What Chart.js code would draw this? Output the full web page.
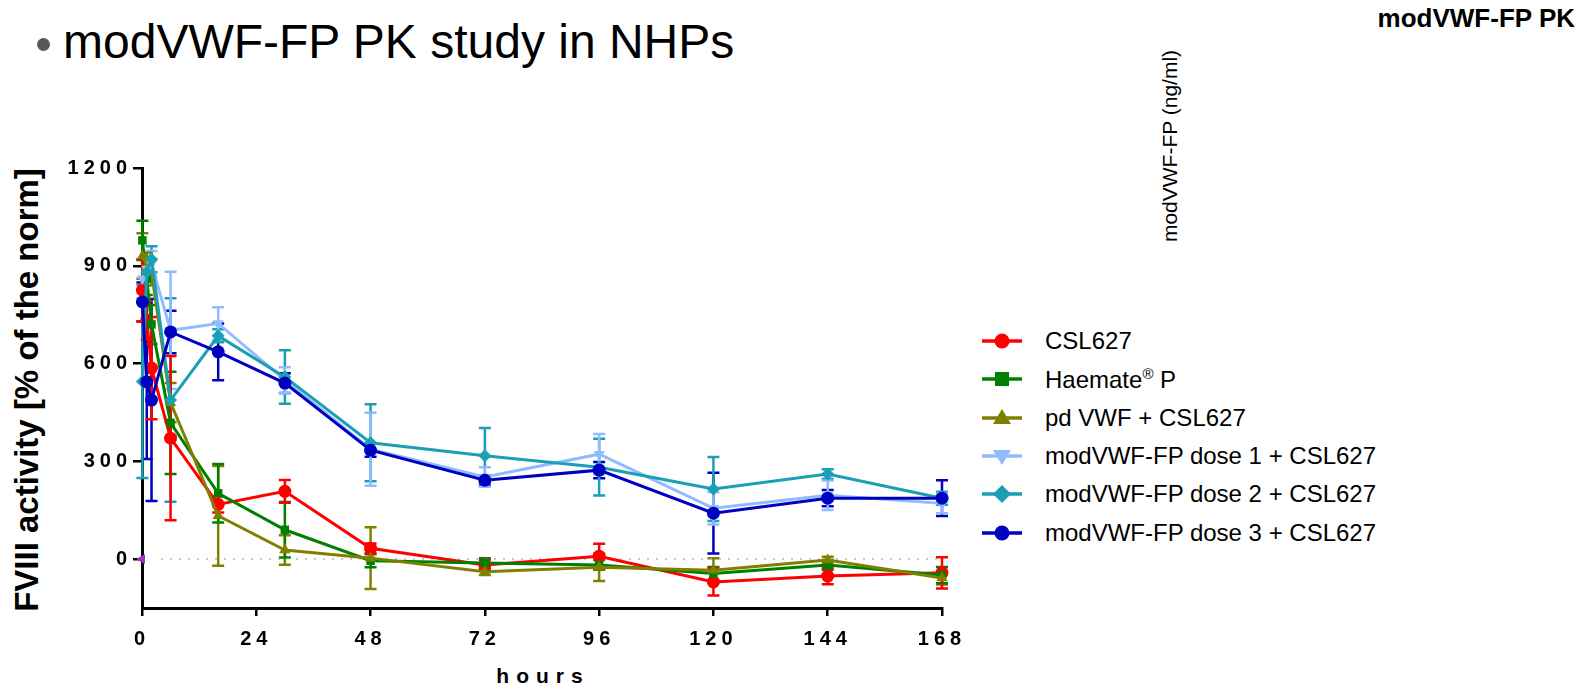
<!DOCTYPE html>
<html>
<head>
<meta charset="utf-8">
<script src="https://cdn.jsdelivr.net/npm/chart.js@4.4.1/dist/chart.umd.min.js"></script>
<style>
  html, body { margin: 0; padding: 0; background: #fff; }
  body { width: 1585px; height: 691px; position: relative; overflow: hidden; font-family: 'Liberation Sans', Arial, sans-serif; }
  #chartBox { position: absolute; left: 0; top: 0; width: 972px; height: 691px; }
  .abs { position: absolute; white-space: nowrap; }
  #bullet { left: 37px; top: 38px; width: 13px; height: 13px; border-radius: 50%; background: #555a5f; }
  #title { left: 63px; top: 14px; font-size: 48px; color: #000; }
  #pk { right: 10px; top: 3px; font-size: 26px; font-weight: bold; }
  #ngml { left: 1170px; top: 146px; font-size: 21px; transform: translate(-50%, -50%) rotate(-90deg); }
  #yTitle { left: 27px; top: 390px; font-size: 33px; font-weight: bold; transform: translate(-50%, -50%) rotate(-90deg); }
  #xTitle { left: 543px; top: 676px; font-size: 21px; font-weight: bold; letter-spacing: 7px; transform: translate(-50%, -50%); }
  #legend { position: absolute; left: 982px; top: 322px; }
  .item { height: 38.3px; display: flex; align-items: center; font-size: 24px; }
  .item svg { margin-right: 23px; }
  sup { font-size: 15px; }
</style>
</head>
<body>
<div class="abs" id="bullet"></div>
<div class="abs" id="title">modVWF-FP PK study in NHPs</div>
<div class="abs" id="pk">modVWF-FP PK</div>
<div class="abs" id="ngml">modVWF-FP (ng/ml)</div>
<div class="abs" id="yTitle">FVIII activity [% of the norm]</div>
<div class="abs" id="xTitle">hours</div>
<div id="chartBox"><canvas id="pkChart"></canvas></div>
<div id="legend"></div>
<script>
// temps de prélèvement (heures)
var hours = [0.083, 1, 2, 6, 16, 30, 48, 72, 96, 120, 144, 168];
var xTicks = [0, 24, 48, 72, 96, 120, 144, 168];
var yTicks = [0, 300, 600, 900, 1200];

var seriesLabels = ['CSL627', 'Haemate® P', 'pd VWF + CSL627',
  'modVWF-FP dose 1 + CSL627', 'modVWF-FP dose 2 + CSL627', 'modVWF-FP dose 3 + CSL627'];

// moyennes
var csl627   = [825, 733, 586, 371, 168, 208, 33, -18, 9, -70, -52, -42];
var haemate  = [978, 860, 720, 418, 202, 90, -5, -12, -18, -44, -18, -49];
var pdVwf    = [930, 900, 880, 480, 133, 28, 3, -39, -25, -34, -3, -58];
var dose1    = [860, 890, 905, 702, 723, 549, 337, 252, 322, 156, 196, 171];
var dose2    = [545, 880, 920, 488, 685, 559, 357, 317, 282, 215, 261, 187];
var dose3    = [789, 544, 488, 697, 636, 540, 334, 242, 273, 141, 187, 187];

// écarts-types
var csl627Sd  = [95, 60, 157, 252, 25, 35, 15, 15, 38, 42, 25, 48];
var haemateSd = [60, 50, 60, 157, 90, 85, 20, 15, 15, 20, 15, 25];
var pdVwfSd   = [70, 40, 40, 60, 153, 45, 95, 10, 42, 37, 10, 20];
var dose1Sd   = [60, 40, 40, 180, 50, 40, 112, 30, 62, 50, 45, 30];
var dose2Sd   = [296, 40, 40, 312, 20, 82, 118, 85, 87, 98, 15, 20];
var dose3Sd   = [60, 237, 310, 65, 87, 30, 20, 15, 25, 124, 25, 55];

var colours = ['#ff0000', '#008000', '#808000', '#8fbcff', '#1a9fb5', '#0000c0'];
var shapes = ['circle', 'rect', 'triangle', 'triangle', 'rectRot', 'circle'];
var rotations = [0, 0, 0, 180, 0, 0];

var means = [csl627, haemate, pdVwf, dose1, dose2, dose3];
var sds = [csl627Sd, haemateSd, pdVwfSd, dose1Sd, dose2Sd, dose3Sd];

var datasets = means.map(function (values, i) {
  return {
    label: seriesLabels[i],
    data: values.map(function (v, j) { return {x: hours[j], y: v}; }),
    sd: sds[i],
    borderColor: colours[i],
    backgroundColor: colours[i],
    borderWidth: 3,
    pointStyle: shapes[i],
    rotation: rotations[i],
    pointRadius: shapes[i] == 'rect' ? 6 : 6.5,
    pointBorderWidth: 0,
    tension: 0,
    clip: false,
    order: 6 - i
  };
});

// ligne pointillée à zéro
datasets.push({
  label: 'zero',
  data: [{x: 4, y: 0}, {x: 168, y: 0}],
  borderColor: '#b5b5b5',
  borderWidth: 1.5,
  borderDash: [2, 7],
  pointRadius: 0,
  order: 20
});
// petit repère violet sur l'axe
datasets.push({
  label: 'mark',
  data: [{x: 0, y: 0}],
  borderColor: '#9b30c8',
  backgroundColor: '#9b30c8',
  pointStyle: 'triangle',
  rotation: -90,
  pointRadius: 5,
  showLine: false,
  clip: false,
  order: 0
});

var errorBars = {
  id: 'errorBars',
  beforeDatasetsDraw: function (chart) {
    var ctx = chart.ctx;
    var x = chart.scales.x, y = chart.scales.y;
    for (var i = chart.data.datasets.length - 1; i >= 0; i--) {
      var ds = chart.data.datasets[i];
      if (!ds.sd) continue;
      ctx.save();
      ctx.strokeStyle = ds.borderColor;
      ctx.lineWidth = 2.5;
      ds.data.forEach(function (p, j) {
        var px = x.getPixelForValue(p.x);
        var top = y.getPixelForValue(p.y + ds.sd[j]);
        var bot = y.getPixelForValue(p.y - ds.sd[j]);
        ctx.beginPath();
        ctx.moveTo(px, top); ctx.lineTo(px, bot);
        ctx.moveTo(px - 6, top); ctx.lineTo(px + 6, top);
        ctx.moveTo(px - 6, bot); ctx.lineTo(px + 6, bot);
        ctx.stroke();
      });
      ctx.restore();
    }
  }
};

var tickSpacing = {
  id: 'tickSpacing',
  beforeDraw: function (chart) { chart.ctx.letterSpacing = '5px'; }
};

var plainLabel = function (v) { return String(v); };

var ctx = document.getElementById('pkChart');
var pkChart = new Chart(ctx, {
  type: 'line',
  data: { datasets: datasets },
  options: {
    responsive: true,
    maintainAspectRatio: false,
    animation: false,
    layout: { padding: { left: 60, top: 168, right: 30, bottom: 0 } },
    plugins: { legend: { display: false }, title: { display: false }, tooltip: { enabled: false } },
    scales: {
      x: {
        type: 'linear',
        min: 0,
        max: 168,
        afterFit: function (s) { s.height = 83; },
        afterBuildTicks: function (s) { s.ticks = xTicks.map(function (v) { return {value: v}; }); },
        grid: { drawOnChartArea: false, drawTicks: true, tickLength: 8, color: '#000', lineWidth: 2.5 },
        border: { display: true, color: '#000', width: 3 },
        ticks: { color: '#000', padding: 11, maxRotation: 0, callback: plainLabel, font: { family: 'Liberation Sans', size: 20, weight: 'bold' } }
      },
      y: {
        min: -150,
        max: 1200,
        afterFit: function (s) { s.width = 82; },
        afterBuildTicks: function (s) { s.ticks = yTicks.map(function (v) { return {value: v}; }); },
        grid: { drawOnChartArea: false, drawTicks: true, tickLength: 9, color: '#000', lineWidth: 2.5 },
        border: { display: true, color: '#000', width: 3 },
        ticks: { color: '#000', padding: 1, callback: plainLabel, font: { family: 'Liberation Sans', size: 20, weight: 'bold' } }
      }
    }
  },
  plugins: [errorBars, tickSpacing]
});

// légende HTML
var symbolSvg = function (i) {
  var c = colours[i];
  var m = '';
  switch (shapes[i]) {
    case 'circle': m = '<circle cx="20" cy="10" r="7.5" fill="' + c + '"/>'; break;
    case 'rect': m = '<rect x="13" y="3" width="14" height="14" fill="' + c + '"/>'; break;
    case 'rectRot': m = '<polygon points="20,1 29,10 20,19 11,10" fill="' + c + '"/>'; break;
    case 'triangle':
      if (rotations[i] == 180) m = '<polygon points="11,4 29,4 20,19" fill="' + c + '"/>';
      else m = '<polygon points="20,1 29,16 11,16" fill="' + c + '"/>';
      break;
  }
  return '<svg width="40" height="20"><line x1="0" y1="10" x2="40" y2="10" stroke="' + c + '" stroke-width="3.5"/>' + m + '</svg>';
};

var legendHtml = '';
seriesLabels.forEach(function (label, i) {
  legendHtml += '<div class="item">' + symbolSvg(i) + '<span>' + label.replace('®', '<sup>®</sup>') + '</span></div>';
});
document.getElementById('legend').innerHTML = legendHtml;
</script>
</body>
</html>
